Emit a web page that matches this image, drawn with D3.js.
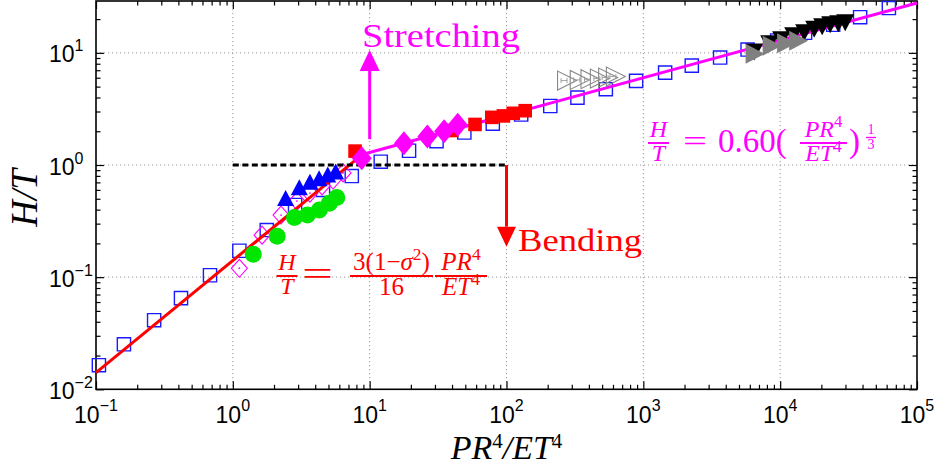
<!DOCTYPE html>
<html><head><meta charset="utf-8">
<script src="https://cdn.jsdelivr.net/npm/d3@7"></script>
<style>body{margin:0;background:#fff}svg{display:block}</style>
</head><body>
<svg id="chart" width="938" height="472"></svg>
<script>
// ---- data: H/T against PR^4/ET^4 ----
const squareX = [0.105, 0.160, 0.266, 0.418, 0.681, 1.116, 1.77, 2.85, 4.56, 7.40, 12.05, 19.4, 30.8, 49.2, 79.4, 128, 209, 330, 532, 885, 1443, 2260, 3640, 5780, 9510, 15200, 24400, 38400, 62300];
const squareY = [0.0164, 0.0252, 0.0413, 0.0650, 0.104, 0.172, 0.263, 0.44, 0.60, 0.797, 1.07, 1.34, 1.63, 1.95, 2.34, 2.82, 3.36, 3.99, 4.74, 5.62, 6.67, 7.70, 9.08, 10.7, 12.9, 15.1, 17.8, 20.8, 25.1];

const openDiamondX = [1.116, 1.635, 2.25, 2.94, 3.66, 4.49, 5.40, 6.39];
const openDiamondY = [0.120, 0.237, 0.358, 0.477, 0.562, 0.65, 0.735, 0.85];

const circleX = [1.41, 2.11, 2.82, 3.51, 4.29, 5.07, 5.75];
const circleY = [0.160, 0.232, 0.34, 0.358, 0.397, 0.455, 0.513];

const upTriX = [2.43, 3.06, 3.66, 4.27, 4.94, 5.64];
const upTriY = [0.507, 0.632, 0.71, 0.76, 0.823, 0.875];

const diamondX = [8.75, 17.8, 26.4, 35.0, 44.0];
const diamondY = [1.148, 1.56, 1.80, 2.0, 2.28];

const redSquareX = [7.82, 39.8, 58.9, 78.1, 94.9, 112, 137];
const redSquareY = [1.33, 2.03, 2.30, 2.66, 2.74, 2.89, 3.05];

const openRightX = [277, 343, 411, 481, 553, 630];
const openRightY = [5.66, 5.74, 5.82, 5.90, 6.02, 6.14];

const grayRightX = [6560, 8740, 11150, 13650];
const grayRightY = [9.8, 11.55, 12.2, 12.8];

const downTriX = [6457, 8318, 10170, 12450, 14970, 17730, 20280, 23190, 26550, 29870];
const downTriY = [10.2, 12.03, 13.06, 14.18, 15.09, 16.21, 17.07, 17.78, 18.15, 18.53];

// fitted laws
const poisson = 0.5;                       // sigma
const bendCoef = 3 * (1 - poisson * poisson) / 16;
const stretchCoef = 0.60;
const stretchExp = 1 / 3;

// regime guides
const guideX = [1, 100];  const guideY = 1;
const stretchArrow = {x: 10, y0: 1.7, y1: 10.6};
const bendArrow = {x: 100, y0: 1, y1: 0.187};

const xExponents = [-1, 0, 1, 2, 3, 4, 5];
const yExponents = [-2, -1, 0, 1];
const xDomain = [0.1, 1e5];
const yDomain = [0.01, 29];

// ---- layout ----
const L = 96, R = 917, T = 1, B = 389.3;
const svg = d3.select("#chart");
const x = d3.scaleLog().domain(xDomain).range([L, R]);
const y = d3.scaleLog().domain(yDomain).range([B, T]);

const minorTicks = (dom) => {
  const out = [];
  for (let e = Math.floor(Math.log10(dom[0])); e <= Math.ceil(Math.log10(dom[1])); e++)
    for (let k = 2; k <= 9; k++) { const v = k * Math.pow(10, e); if (v > dom[0] && v < dom[1]) out.push(v); }
  return out;
};
const xMajor = xExponents.map(e => Math.pow(10, e));
const yMajor = yExponents.map(e => Math.pow(10, e));

// grid
const grid = svg.append("g").attr("stroke", "#9a9a9a").attr("stroke-width", 1).attr("stroke-dasharray", "1.2,2.8");
xMajor.filter(v => v > xDomain[0] && v < xDomain[1]).forEach(v =>
  grid.append("line").attr("x1", x(v)).attr("x2", x(v)).attr("y1", T).attr("y2", B));
yMajor.filter(v => v > yDomain[0] && v < yDomain[1]).forEach(v =>
  grid.append("line").attr("y1", y(v)).attr("y2", y(v)).attr("x1", L).attr("x2", R));

// axes: inward ticks on all four sides
function addAxis(gen, tr, vals, len) {
  svg.append("g").attr("transform", tr)
    .call(gen.tickValues(vals).tickFormat("").tickSizeInner(-len).tickSizeOuter(0))
    .call(g => g.select(".domain").remove())
    .call(g => g.selectAll("line").attr("stroke", "#000").attr("stroke-width", 1.2));
}
const xMinor = minorTicks(xDomain), yMinor = minorTicks(yDomain);
addAxis(d3.axisBottom(x), `translate(0,${B})`, xMajor, 8);
addAxis(d3.axisBottom(x), `translate(0,${B})`, xMinor, 4.5);
addAxis(d3.axisTop(x), `translate(0,${T})`, xMajor, 8);
addAxis(d3.axisTop(x), `translate(0,${T})`, xMinor, 4.5);
addAxis(d3.axisLeft(y), `translate(${L},0)`, yMajor, 8);
addAxis(d3.axisLeft(y), `translate(${L},0)`, yMinor, 4.5);
addAxis(d3.axisRight(y), `translate(${R},0)`, yMajor, 8);
addAxis(d3.axisRight(y), `translate(${R},0)`, yMinor, 4.5);

const fmtExp = e => (e < 0 ? "\u2212" + (-e) : String(e));
const sans = "'Liberation Sans', Arial, Helvetica, sans-serif";
const serif = "'Liberation Serif', 'Times New Roman', serif";

xExponents.forEach(e => {
  const t = svg.append("text").attr("x", x(Math.pow(10, e))).attr("y", 423)
    .attr("text-anchor", "middle").attr("font-family", sans).attr("font-size", 23).attr("fill", "#000");
  t.append("tspan").text("10");
  t.append("tspan").attr("dy", -12).attr("font-size", 16).text(fmtExp(e));
});
yExponents.forEach(e => {
  const t = svg.append("text").attr("x", 49).attr("y", y(Math.pow(10, e)) + 9.5)
    .attr("font-family", sans).attr("font-size", 23).attr("fill", "#000");
  t.append("tspan").text("10");
  t.append("tspan").attr("dy", -11).attr("font-size", 16).text(fmtExp(e));
});

// axis titles
{
  const t = svg.append("text").attr("x", (L + R) / 2).attr("y", 459).attr("text-anchor", "middle")
    .attr("font-family", serif).attr("font-size", 34).attr("font-style", "italic").attr("fill", "#000");
  t.append("tspan").text("PR");
  t.append("tspan").attr("dy", -11).attr("font-size", 21).attr("font-style", "normal").text("4");
  t.append("tspan").attr("dy", 11).text("/ET");
  t.append("tspan").attr("dy", -11).attr("font-size", 21).attr("font-style", "normal").text("4");
}
svg.append("text").attr("transform", `translate(37,198) rotate(-90)`).attr("text-anchor", "middle")
  .attr("font-family", serif).attr("font-size", 37).attr("font-style", "italic").attr("fill", "#000")
  .text("H/T");

// frame
svg.append("rect").attr("x", L).attr("y", T).attr("width", R - L).attr("height", B - T)
  .attr("fill", "none").attr("stroke", "#000").attr("stroke-width", 1.6);

// ---- marker shapes ----
const diamondPath = (w, h) => `M0,${-h/2}L${w/2},0L0,${h/2}L${-w/2},0Z`;
const triPath = (dir, w, h) => ({
  up: `M0,${-h/2}L${w/2},${h/2}L${-w/2},${h/2}Z`,
  down: `M0,${h/2}L${w/2},${-h/2}L${-w/2},${-h/2}Z`,
  right: `M${w/2},0L${-w/2},${-h/2}L${-w/2},${h/2}Z`
})[dir];
const zip = (xs, ys) => xs.map((v, i) => [v, ys[i]]);

function markers(xs, ys, path, attrs) {
  const g = svg.append("g");
  g.selectAll("path").data(zip(xs, ys)).join("path")
    .attr("transform", d => `translate(${x(d[0])},${y(d[1])})`)
    .attr("d", path)
    .call(s => Object.entries(attrs).forEach(([k, v]) => s.attr(k, v)));
  return g;
}

// blue open squares
markers(squareX, squareY, `M-6.6,-6.6H6.6V6.6H-6.6Z`, {fill: "none", stroke: "#1a1aff", "stroke-width": 1.4});

// magenta open diamonds with centre dot
markers(openDiamondX, openDiamondY, diamondPath(16, 18), {fill: "none", stroke: "#ff00ff", "stroke-width": 1.1});
svg.append("g").selectAll("circle").data(zip(openDiamondX, openDiamondY)).join("circle")
  .attr("cx", d => x(d[0])).attr("cy", d => y(d[1])).attr("r", 0.9).attr("fill", "#ff00ff");

// fitted lines
const xCross = Math.pow(stretchCoef / bendCoef, 1 / (1 - stretchExp));
const line = d3.line().x(d => x(d[0])).y(d => y(d[1]));
svg.append("path").attr("d", line([xDomain[0], xCross].map(v => [v, bendCoef * v])))
  .attr("stroke", "#ff0000").attr("stroke-width", 3).attr("fill", "none");
svg.append("path").attr("d", line([xCross, xDomain[1]].map(v => [v, stretchCoef * Math.pow(v, stretchExp)])))
  .attr("stroke", "#ff00ff").attr("stroke-width", 3).attr("fill", "none");

// threshold guide H/T = 1
svg.append("line").attr("x1", x(guideX[0])).attr("x2", x(guideX[1])).attr("y1", y(guideY)).attr("y2", y(guideY))
  .attr("stroke", "#000").attr("stroke-width", 2.8).attr("stroke-dasharray", "6,3.5");

// filled markers
markers(circleX, circleY, d3.symbol(d3.symbolCircle, Math.PI * 8.5 * 8.5)(), {fill: "#00e600", stroke: "none"});
markers(upTriX, upTriY, triPath("up", 17, 16), {fill: "#0000ff", stroke: "none"});
markers(redSquareX, redSquareY, `M-6.8,-6.8H6.8V6.8H-6.8Z`, {fill: "#ff0000", stroke: "none"});
markers(diamondX, diamondY, diamondPath(20, 24), {fill: "#ff00ff", stroke: "none"});

// grey open right triangles with small horizontal error bars
markers(openRightX, openRightY, triPath("right", 19, 19), {fill: "none", stroke: "#888", "stroke-width": 1.1});
markers(openRightX, openRightY, "M-6,-2.5V2.5M-6,0H0M0,-2.5V2.5", {fill: "none", stroke: "#999", "stroke-width": 0.9});

markers(downTriX, downTriY, triPath("down", 18, 17), {fill: "#000", stroke: "none"});
markers(grayRightX, grayRightY, triPath("right", 19, 20), {fill: "#808080", stroke: "none"});

// regime arrows
function arrow(a, color, headL, headW) {
  const xa = x(a.x), y0 = y(a.y0), y1 = y(a.y1);
  const dir = y1 < y0 ? 1 : -1;
  svg.append("line").attr("x1", xa).attr("x2", xa).attr("y1", y0).attr("y2", y1 + dir * headL)
    .attr("stroke", color).attr("stroke-width", 3);
  svg.append("path").attr("d", `M${xa},${y1}L${xa + headW/2},${y1 + dir * headL}L${xa - headW/2},${y1 + dir * headL}Z`)
    .attr("fill", color);
}
arrow(stretchArrow, "#ff00ff", 21, 20);
arrow(bendArrow, "#ff0000", 20, 19);

svg.append("text").attr("x", 362).attr("y", 47).attr("font-family", serif).attr("font-size", 34)
  .attr("fill", "#ff00ff").attr("textLength", 158).attr("lengthAdjust", "spacingAndGlyphs").text("Stretching");
svg.append("text").attr("x", 518).attr("y", 251).attr("font-family", serif).attr("font-size", 32)
  .attr("fill", "#ff0000").attr("textLength", 124).attr("lengthAdjust", "spacingAndGlyphs").text("Bending");

// ---- formulas ----
// parts: [text, italic?, superscript?]
function runs(t, parts, size) {
  let raised = false;
  parts.forEach(([s, it, sup]) => {
    const ts = t.append("tspan").text(s).attr("font-style", it ? "italic" : "normal");
    if (sup) ts.attr("font-size", size * 0.7).attr("dy", -size * 0.4);
    else ts.attr("dy", raised ? size * 0.4 : 0);
    raised = !!sup;
  });
}
function frac(cx, barY, barW, num, den, color, size) {
  const g = svg.append("g").attr("fill", color).attr("font-family", serif).attr("font-size", size);
  const tn = g.append("text").attr("x", cx).attr("y", barY - 6).attr("text-anchor", "middle");
  runs(tn, num, size);
  const td = g.append("text").attr("x", cx).attr("y", barY + 1 + size * 0.72).attr("text-anchor", "middle");
  runs(td, den, size);
  g.append("line").attr("x1", cx - barW / 2).attr("x2", cx + barW / 2).attr("y1", barY).attr("y2", barY)
    .attr("stroke", color).attr("stroke-width", 2);
}
function eq(cx, cy, w, color, size) {
  svg.append("text").attr("x", cx - w / 2).attr("y", cy + size * 0.27).attr("font-family", serif)
    .attr("font-size", size).attr("fill", color).attr("textLength", w).attr("lengthAdjust", "spacingAndGlyphs").text("=");
}

// bending law (red)
frac(287, 276, 21, [["H", true]], [["T", true]], "#ff0000", 24);
eq(317.5, 276, 31, "#ff0000", 34);
frac(391.5, 276, 83, [["3(1\u2212", false], ["\u03c3", true], ["2", false, true], [")", false]], [["16", false]], "#ff0000", 25);
frac(461, 276, 52, [["PR", true], ["4", false, true]], [["ET", true], ["4", false, true]], "#ff0000", 25);

// stretching law (magenta)
frac(658.5, 143, 21, [["H", true]], [["T", true]], "#ff00ff", 24);
eq(695, 143, 24, "#ff00ff", 30);
svg.append("text").attr("x", 718).attr("y", 152).attr("font-family", serif).attr("font-size", 33)
  .attr("fill", "#ff00ff").text("0.60(");
frac(823.5, 143, 47, [["PR", true], ["4", false, true]], [["ET", true], ["4", false, true]], "#ff00ff", 24);
svg.append("text").attr("x", 849).attr("y", 152).attr("font-family", serif).attr("font-size", 33)
  .attr("fill", "#ff00ff").text(")");
{
  const g = svg.append("g").attr("fill", "#ff00ff").attr("font-family", serif).attr("font-size", 14).attr("text-anchor", "middle");
  g.append("text").attr("x", 871).attr("y", 134).text("1");
  g.append("text").attr("x", 871).attr("y", 148.5).text("3");
  g.append("line").attr("x1", 866).attr("x2", 876).attr("y1", 137.5).attr("y2", 137.5).attr("stroke", "#ff00ff").attr("stroke-width", 1.3);
}
</script>
</body></html>
